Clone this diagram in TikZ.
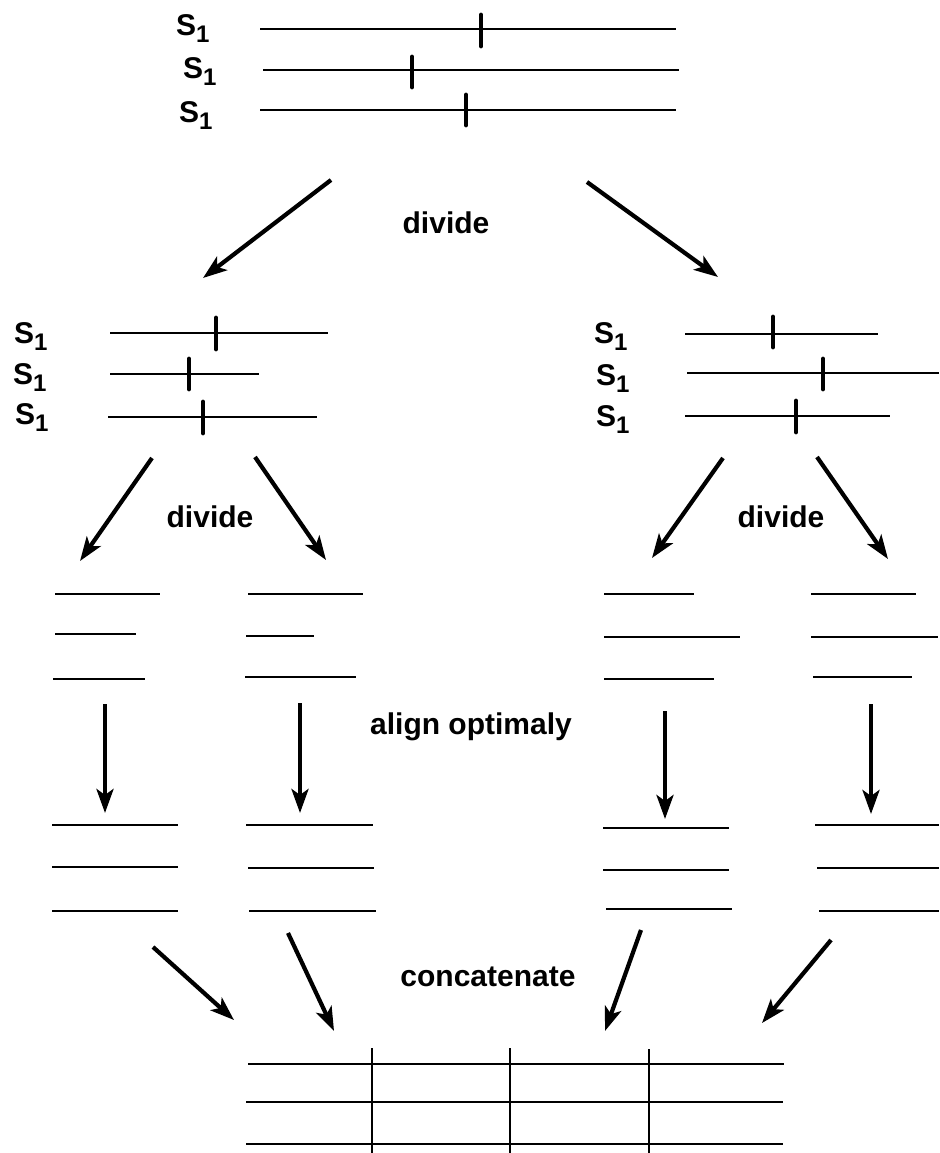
\documentclass[tikz,border=0pt]{standalone}
\usepackage{fontspec}
\setmainfont{Liberation Sans}
\usetikzlibrary{arrows.meta}
\tikzset{
  seqLine/.style={line width=1.3pt},
  gridLine/.style={line width=1.1pt},
  cutMark/.style={line width=4.8pt, line cap=round},
  flowArrow/.style={line width=4.2pt, -{Stealth[length=24pt,width=17pt,inset=6pt]}},
  stepLabel/.style={font=\fontsize{30}{34}\selectfont\bfseries, inner sep=0pt},
  seqLabel/.style={font=\fontsize{30}{34}\selectfont\bfseries, inner sep=0pt, anchor=base west}
}
\newcommand{\seqName}{S\raisebox{-7pt}{\fontsize{24}{24}\selectfont 1}}

\begin{document}
\begin{tikzpicture}[x=1pt,y=-1pt]
  \useasboundingbox (0,0) rectangle (939,1153);

  % whole alignment
  \node[seqLabel] (topA) at (176,36) {\seqName};
  \node[seqLabel] (topB) at (183,79) {\seqName};
  \node[seqLabel] (topC) at (179,123) {\seqName};
  \draw[seqLine] (260,29) -- (676,29);
  \draw[seqLine] (263,70) -- (679,70);
  \draw[seqLine] (260,110) -- (676,110);
  \draw[cutMark] (481,15) -- (481,46);
  \draw[cutMark] (412,57) -- (412,87);
  \draw[cutMark] (466,95) -- (466,125);

  % first divide
  \coordinate (divL0) at (331,180);
  \coordinate (divL1) at (203,278);
  \coordinate (divR0) at (587,182);
  \coordinate (divR1) at (718,277);
  \draw[flowArrow] (divL0) -- (divL1);
  \draw[flowArrow] (divR0) -- (divR1);
  \node[stepLabel] (divTop) at (446,223) {divide};

  % left half
  \node[seqLabel] (leftA) at (14,343) {\seqName};
  \node[seqLabel] (leftB) at (13,384) {\seqName};
  \node[seqLabel] (leftC) at (15,424) {\seqName};
  \draw[seqLine] (110,333) -- (328,333);
  \draw[seqLine] (110,374) -- (259,374);
  \draw[seqLine] (108,417) -- (317,417);
  \draw[cutMark] (216,318) -- (216,349);
  \draw[cutMark] (189,359) -- (189,389);
  \draw[cutMark] (203,402) -- (203,433);

  % right half
  \node[seqLabel] (rightA) at (594,343) {\seqName};
  \node[seqLabel] (rightB) at (596,385) {\seqName};
  \node[seqLabel] (rightC) at (596,426) {\seqName};
  \draw[seqLine] (685,334) -- (878,334);
  \draw[seqLine] (687,373) -- (939,373);
  \draw[seqLine] (685,416) -- (890,416);
  \draw[cutMark] (773,317) -- (773,347);
  \draw[cutMark] (823,359) -- (823,389);
  \draw[cutMark] (796,401) -- (796,432);

  % second divide
  \coordinate (divLL0) at (152,458);
  \coordinate (divLL1) at (80,561);
  \coordinate (divLR0) at (255,457);
  \coordinate (divLR1) at (326,560);
  \coordinate (divRL0) at (723,458);
  \coordinate (divRL1) at (652,558);
  \coordinate (divRR0) at (817,457);
  \coordinate (divRR1) at (888,559);
  \draw[flowArrow] (divLL0) -- (divLL1);
  \draw[flowArrow] (divLR0) -- (divLR1);
  \draw[flowArrow] (divRL0) -- (divRL1);
  \draw[flowArrow] (divRR0) -- (divRR1);
  \node[stepLabel] (divLeft) at (210,517) {divide};
  \node[stepLabel] (divRight) at (781,517) {divide};

  % quarters, unaligned
  \draw[seqLine] (55,594) -- (160,594);
  \draw[seqLine] (55,634) -- (136,634);
  \draw[seqLine] (53,679) -- (145,679);
  \draw[seqLine] (248,594) -- (363,594);
  \draw[seqLine] (246,636) -- (314,636);
  \draw[seqLine] (245,677) -- (356,677);
  \draw[seqLine] (604,594) -- (694,594);
  \draw[seqLine] (604,637) -- (740,637);
  \draw[seqLine] (604,679) -- (714,679);
  \draw[seqLine] (811,594) -- (916,594);
  \draw[seqLine] (811,637) -- (938,637);
  \draw[seqLine] (813,677) -- (912,677);

  % align
  \coordinate (alnA0) at (105,704);
  \coordinate (alnA1) at (105,813);
  \coordinate (alnB0) at (300,703);
  \coordinate (alnB1) at (300,813);
  \coordinate (alnC0) at (665,711);
  \coordinate (alnC1) at (665,819);
  \coordinate (alnD0) at (871,704);
  \coordinate (alnD1) at (871,814);
  \draw[flowArrow] (alnA0) -- (alnA1);
  \draw[flowArrow] (alnB0) -- (alnB1);
  \draw[flowArrow] (alnC0) -- (alnC1);
  \draw[flowArrow] (alnD0) -- (alnD1);
  \node[stepLabel] (alnText) at (471,727) {align optimaly};

  % quarters, aligned
  \draw[seqLine] (52,825) -- (178,825);
  \draw[seqLine] (52,867) -- (178,867);
  \draw[seqLine] (52,911) -- (178,911);
  \draw[seqLine] (246,825) -- (373,825);
  \draw[seqLine] (248,868) -- (374,868);
  \draw[seqLine] (249,911) -- (376,911);
  \draw[seqLine] (603,828) -- (729,828);
  \draw[seqLine] (603,870) -- (729,870);
  \draw[seqLine] (606,909) -- (732,909);
  \draw[seqLine] (815,825) -- (939,825);
  \draw[seqLine] (817,868) -- (939,868);
  \draw[seqLine] (819,911) -- (939,911);

  % concatenate
  \coordinate (catA0) at (153,947);
  \coordinate (catA1) at (234,1020);
  \coordinate (catB0) at (288,933);
  \coordinate (catB1) at (334,1031);
  \coordinate (catC0) at (641,930);
  \coordinate (catC1) at (605,1031);
  \coordinate (catD0) at (831,940);
  \coordinate (catD1) at (762,1023);
  \draw[flowArrow] (catA0) -- (catA1);
  \draw[flowArrow] (catB0) -- (catB1);
  \draw[flowArrow] (catC0) -- (catC1);
  \draw[flowArrow] (catD0) -- (catD1);
  \node[stepLabel] (catText) at (488,977) {concatenate};

  % result
  \draw[seqLine] (248,1064) -- (784,1064);
  \draw[seqLine] (246,1102) -- (783,1102);
  \draw[seqLine] (246,1144) -- (783,1144);
  \draw[gridLine] (372,1048) -- (372,1153);
  \draw[gridLine] (510,1048) -- (510,1153);
  \draw[gridLine] (649,1049) -- (649,1153);
\end{tikzpicture}
\end{document}
